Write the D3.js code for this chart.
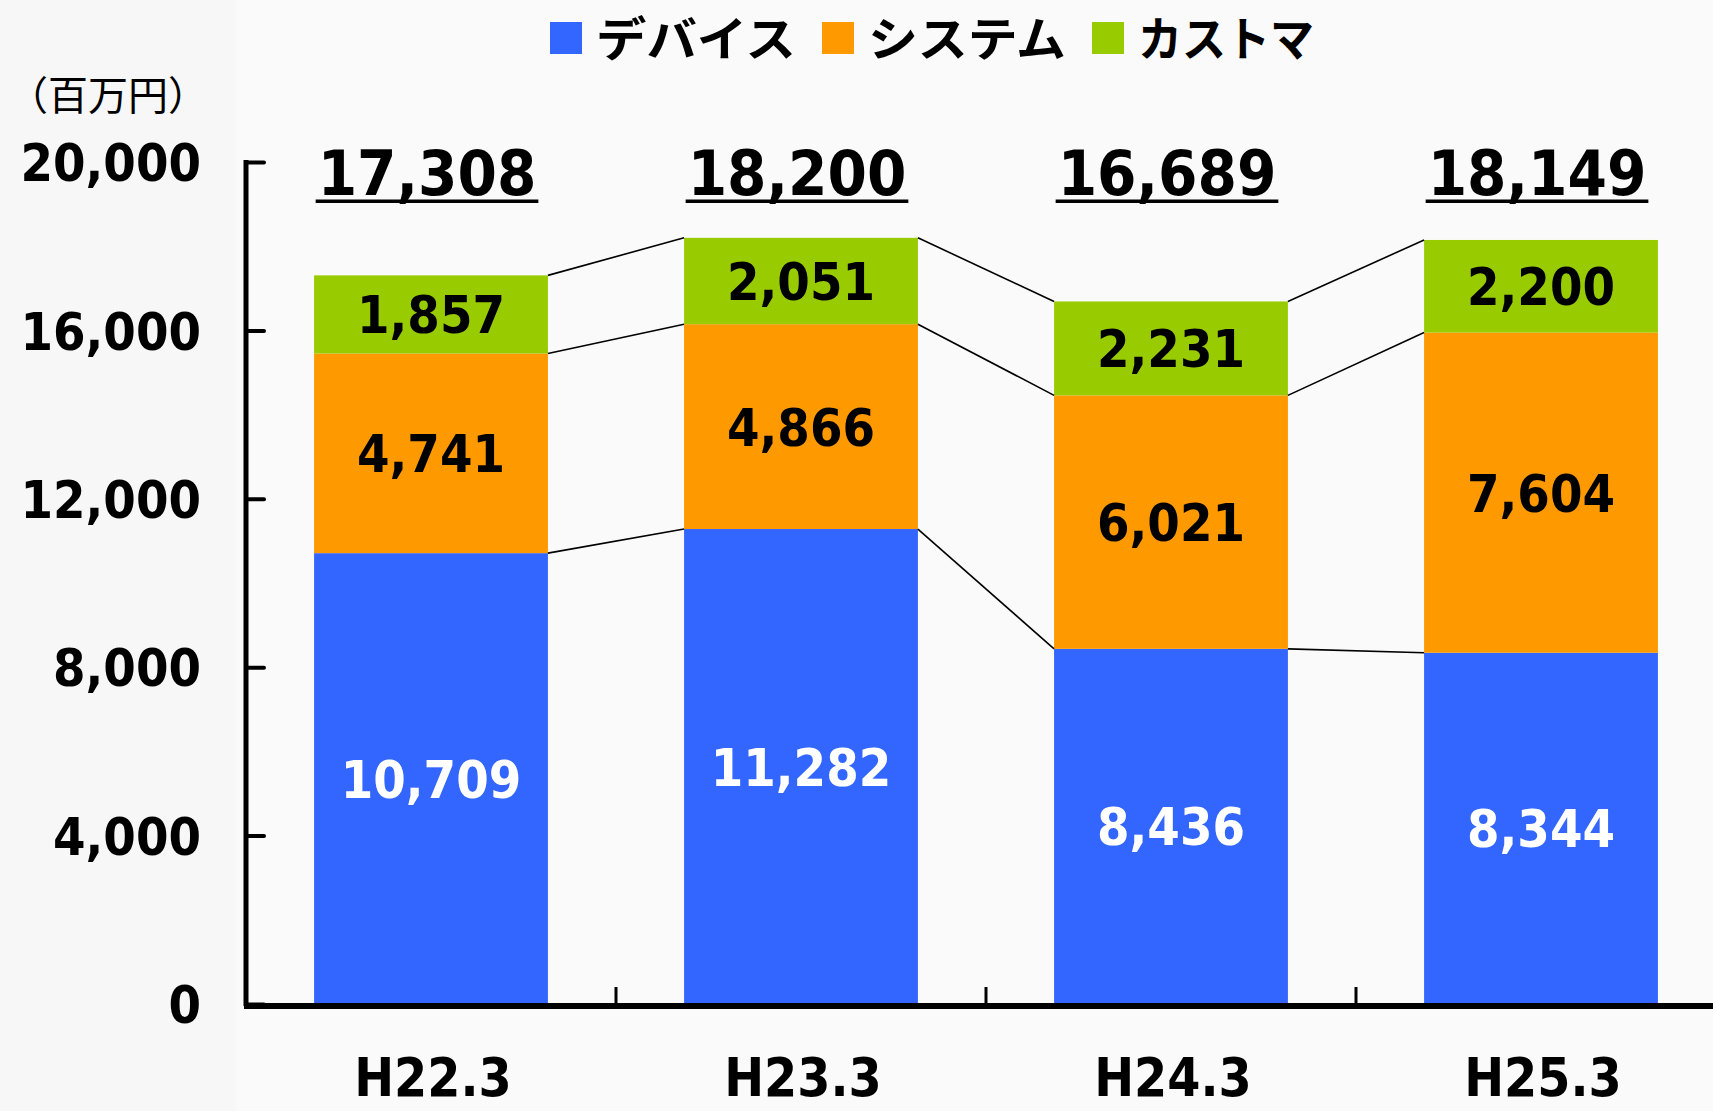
<!DOCTYPE html>
<html>
<head>
<meta charset="utf-8">
<script src="https://cdn.jsdelivr.net/npm/d3@7"></script>
<style>
  body { margin: 0; background: #f7f7f7; }
  svg { display: block; }
  .num { font-family: "DejaVu Sans Condensed", "DejaVu Sans", sans-serif; font-weight: bold; }
  .jp { font-family: "Noto Sans CJK JP", sans-serif; }
</style>
</head>
<body>
<svg width="1713" height="1111"></svg>
<script>
var categories = ['H22.3', 'H23.3', 'H24.3', 'H25.3'];
var seriesNames = ['デバイス', 'システム', 'カストマ'];
var seriesColors = ['#3366ff', '#ff9900', '#99cc00'];
var device = [10709, 11282, 8436, 8344];
var system = [4741, 4866, 6021, 7604];
var custom = [1857, 2051, 2231, 2200];
var totals = [17308, 18200, 16689, 18149];
var yTicks = [0, 4000, 8000, 12000, 16000, 20000];
var unitLabel = '（百万円）';

var width = 1713, height = 1111;
var legendTextW = [200, 198, 176];
var fmt = d3.format(',');
var svg = d3.select('svg');

svg.append('rect').attr('x', 236).attr('y', 0).attr('width', width - 236).attr('height', height).attr('fill', '#fafafa');

var x = d3.scaleBand()
    .domain(categories)
    .range([246, 246 + 370 * categories.length])
    .paddingInner(0.368)
    .paddingOuter(0.184);

var y = d3.scaleLinear()
    .domain([0, 20000])
    .range([1004, 162]);

var rows = categories.map(function (c, i) {
    return { cat: c, device: device[i], system: system[i], custom: custom[i], total: totals[i] };
});
var keys = ['device', 'system', 'custom'];
var stacked = d3.stack().keys(keys)(rows);

/* ----------- BARS ----------- */

var layers = svg.selectAll('g.layer').data(stacked).enter()
    .append('g')
    .attr('class', 'layer')
    .attr('fill', function (d, i) { return seriesColors[i]; });

layers.selectAll('rect').data(function (d) { return d; }).enter()
    .append('rect')
    .attr('x', function (d) { return x(d.data.cat); })
    .attr('y', function (d) { return y(d[1]); })
    .attr('width', x.bandwidth())
    .attr('height', function (d) { return y(d[0]) - y(d[1]); });

// connector lines between bars
stacked.forEach(function (layer) {
    for (var i = 0; i < layer.length - 1; i++) {
        svg.append('line')
            .attr('x1', x(categories[i]) + x.bandwidth())
            .attr('y1', y(layer[i][1]))
            .attr('x2', x(categories[i + 1]))
            .attr('y2', y(layer[i + 1][1]))
            .attr('stroke', '#000')
            .attr('stroke-width', 1.6);
    }
});

// segment labels
stacked.forEach(function (layer, li) {
    svg.selectAll('text.seg' + li).data(layer).enter()
        .append('text')
        .attr('class', 'num seg' + li)
        .attr('text-anchor', 'middle')
        .attr('font-size', 52)
        .attr('fill', li === 0 ? '#fff' : '#000')
        .attr('x', function (d) { return x(d.data.cat) + x.bandwidth() / 2; })
        .attr('y', function (d) { return (y(d[0]) + y(d[1])) / 2 + 19; })
        .text(function (d) { return fmt(d.data[keys[li]]); });
});

// totals, underlined
svg.selectAll('text.total').data(rows).enter()
    .append('text')
    .attr('class', 'num total')
    .attr('text-anchor', 'middle')
    .attr('font-size', 63)
    .attr('x', function (d) { return x(d.cat) + x.bandwidth() / 2 - 4; })
    .attr('y', 195)
    .text(function (d) { return fmt(d.total); })
    .each(function (d) {
        var w = this.getComputedTextLength();
        var cx = x(d.cat) + x.bandwidth() / 2 - 4;
        svg.append('rect')
            .attr('x', cx - w / 2 - 2)
            .attr('y', 199.5)
            .attr('width', w + 4)
            .attr('height', 3.5)
            .attr('fill', '#000');
    });

/* ----------- AXES ----------- */

var yAxis = svg.append('g')
    .attr('transform', 'translate(246,0)')
    .call(d3.axisLeft(y).tickValues(yTicks).tickFormat(fmt).tickSizeInner(-18).tickSizeOuter(0).tickPadding(45));

yAxis.select('.domain').remove();
yAxis.selectAll('.tick line').attr('stroke', '#000').attr('stroke-width', 4).attr('stroke-linecap', 'round');
yAxis.selectAll('.tick text')
    .attr('class', 'num')
    .attr('font-size', 52)
    .attr('fill', '#000')
    .attr('dy', '0.36em');

svg.append('line')
    .attr('x1', 246).attr('y1', 160)
    .attr('x2', 246).attr('y2', 1006)
    .attr('stroke', '#000').attr('stroke-width', 5);

svg.append('line')
    .attr('x1', 244).attr('y1', 1006)
    .attr('x2', width).attr('y2', 1006)
    .attr('stroke', '#000').attr('stroke-width', 6);

// category separators
categories.slice(1).forEach(function (c) {
    var sx = x(c) - x.step() * x.paddingInner() / 2;
    svg.append('line')
        .attr('x1', sx).attr('y1', 1006)
        .attr('x2', sx).attr('y2', 987)
        .attr('stroke', '#000').attr('stroke-width', 3);
});

svg.selectAll('text.cat').data(categories).enter()
    .append('text')
    .attr('class', 'num cat')
    .attr('text-anchor', 'middle')
    .attr('font-size', 53)
    .attr('x', function (d) { return x(d) + x.bandwidth() / 2 + 2; })
    .attr('y', 1096)
    .text(function (d) { return d; });

svg.append('text')
    .attr('class', 'jp')
    .attr('font-size', 40)
    .attr('x', 8)
    .attr('y', 110)
    .text(unitLabel);

/* ----------- LEGEND ----------- */

var lx = 550;
seriesNames.forEach(function (name, i) {
    svg.append('rect')
        .attr('x', lx).attr('y', 22)
        .attr('width', 32).attr('height', 32)
        .attr('fill', seriesColors[i]);
    svg.append('text')
        .attr('class', 'jp')
        .attr('font-size', 47)
        .attr('font-weight', 'bold')
        .attr('x', lx + 46)
        .attr('y', 56)
        .attr('textLength', legendTextW[i])
        .attr('lengthAdjust', 'spacingAndGlyphs')
        .text(name);
    lx += 46 + legendTextW[i] + 26;
});
</script>
</body>
</html>
